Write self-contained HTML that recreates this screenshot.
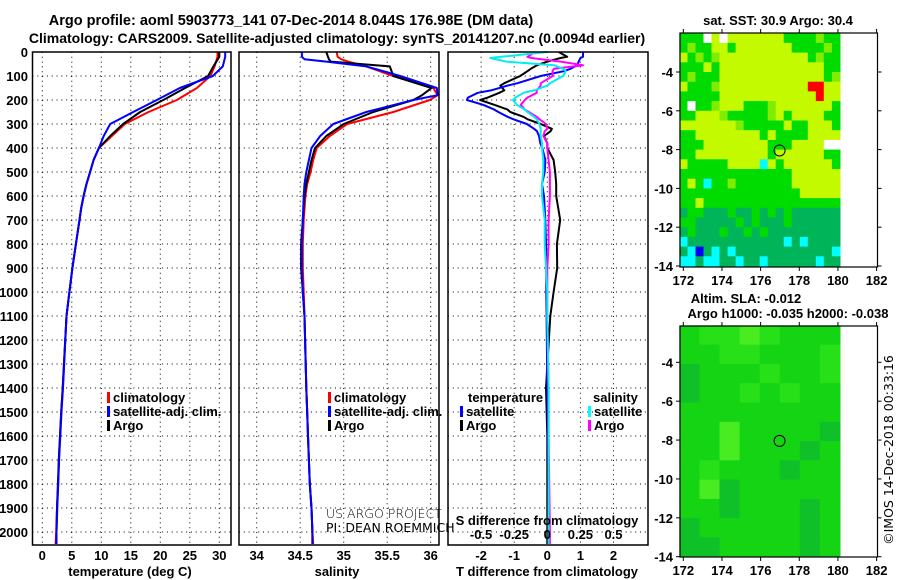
<!DOCTYPE html>
<html><head><meta charset="utf-8">
<style>
html,body{margin:0;padding:0;background:#fff;}
svg{display:block;font-family:"Liberation Sans",Arial,sans-serif;}
.b{font-weight:bold;font-size:13px;}
</style></head>
<body>
<svg id="c" width="900" height="580" viewBox="0 0 900 580"></svg>
<script>
// ---------- data ----------
const depthT = [0,20,60,100,150,200,250,300,350,400,450,500,550,600,650,700,800,900,1000,1100,1400,1500,1600,1700,1800,1900,2000,2050];
const tempClim = [29.7,29.7,29.2,28.5,26.2,22.8,18.0,14.0,11.8,9.6,8.7,8.1,7.5,7.0,6.6,6.3,5.7,5.1,4.6,4.1,3.45,3.2,3.0,2.8,2.7,2.5,2.35,2.25];
const tempSat  = [31.0,31.0,30.6,28.9,23.3,19.4,15.4,11.5,10.4,9.6,8.7,8.1,7.5,7.0,6.6,6.3,5.7,5.1,4.6,4.1,3.5,3.25,3.05,2.85,2.7,2.55,2.4,2.35];
const tempArgo = [30.0,30.0,29.0,28.1,24.2,20.5,16.6,13.7,11.5,9.6,8.7,8.1,7.5,7.0,6.6,6.3,5.7,5.1,4.6,4.1,3.45,3.2,3.0,2.8,2.65,2.5,2.4,2.4];
const depthS = [0,20,30,40,60,100,150,180,200,250,300,350,400,450,500,550,600,700,800,900,1000,1100,1400,1500,1600,1700,1800,1900,2000,2050];
const salClim = [34.92,34.93,34.97,35.05,35.26,35.57,36.03,36.08,35.99,35.57,35.04,34.84,34.69,34.65,34.62,34.58,34.56,34.54,34.53,34.53,34.54,34.55,34.57,34.58,34.59,34.60,34.61,34.63,34.64,34.65];
const salSat  = [34.52,34.52,34.55,34.80,35.26,35.65,36.07,36.08,35.80,35.26,34.88,34.73,34.63,34.60,34.57,34.55,34.54,34.53,34.52,34.52,34.53,34.55,34.57,34.58,34.59,34.60,34.61,34.63,34.64,34.64];
const salArgo = [34.80,34.82,34.83,34.85,35.53,35.57,36.01,35.90,35.80,35.34,35.00,34.80,34.67,34.63,34.60,34.57,34.55,34.53,34.51,34.51,34.53,34.55,34.57,34.58,34.59,34.60,34.61,34.63,34.64,34.64];
const depthD = [0,20,25,40,55,70,80,100,130,140,160,170,190,200,220,240,250,270,280,300,320,330,350,380,400,450,500,550,600,700,800,900,1000,1100,1400,1600,2000,2050];
const dTSat  = [1.08,1.08,1.0,0.95,0.9,0.7,0.5,-0.2,-0.9,-1.2,-1.7,-2.1,-2.4,-2.43,-1.94,-1.6,-1.48,-1.2,-1.03,-0.62,-0.4,-0.31,-0.25,-0.21,-0.15,-0.06,-0.08,-0.16,-0.1,-0.06,-0.04,-0.03,-0.03,-0.02,0.0,0.02,0.05,0.05];
const dTArgo = [0.34,0.6,0.4,0.0,-0.31,-0.5,-0.6,-0.82,-1.3,-1.42,-1.3,-1.45,-1.8,-2.03,-1.6,-1.2,-1.12,-0.72,-0.6,-0.2,0.14,0.1,-0.1,0.0,0.0,0.19,0.24,0.27,0.27,0.39,0.29,0.3,0.19,0.09,-0.04,0.0,0.0,0.0];
const dSSat  = [0.0,-0.35,-0.43,-0.31,0.05,0.12,0.14,0.12,0.02,0.0,-0.1,-0.18,-0.24,-0.26,-0.23,-0.17,-0.15,-0.1,-0.08,-0.06,-0.05,-0.05,-0.05,-0.04,-0.04,-0.03,-0.03,-0.04,-0.04,-0.02,-0.02,-0.01,0.0,0.0,0.01,0.01,0.01,0.01];
const dSArgo = [-0.09,-0.15,-0.12,0.1,0.27,0.05,0.04,0.04,-0.05,-0.05,-0.08,-0.08,-0.15,-0.17,-0.2,-0.17,-0.14,-0.08,-0.06,-0.01,0.0,-0.02,-0.03,0.0,0.0,0.01,0.02,0.02,0.02,0.01,0.01,0.0,0.0,0.0,0.01,0.01,0.02,0.02];
const depthTicks = [0,100,200,300,400,500,600,700,800,900,1000,1100,1200,1300,1400,1500,1600,1700,1800,1900,2000];
const tempTicks = [0,5,10,15,20,25,30];
const salTicks = [34,34.5,35,35.5,36];
const salTickLabels = ["34","34.5","35","35.5","36"];
const dTTicks = [-2,-1,0,1,2];
const dSTicks = [-0.5,-0.25,0,0.25,0.5];
const dSTickLabels = ["-0.5","-0.25","0","0.25","0.5"];
const lonTicks = [172,174,176,178,180,182];
const latTicks = [-4,-6,-8,-10,-12,-14];
const sstRows = [
"GGGWYWYYYYYYYGGGGLGG","GLGGYYGYYYYYYYGGGGLG","YGLGLYYYYYYYYYYYGLGG","GGGYGYYYYYYYYYYYYYGG",
"GLGGGYYYYYYYYYYYYYGL","YGGGLYYYYYYYYYYYRRYY","GGGGGYYYYYYYYYYYYRYY","GWGGLYYYGGGLYYYYYYYG",
"GGYYYLGGGGGLYGYYYYGG","YYYYYYYLGGGGGYGGYYYG","GGYYYYYYYYGYGGGGYYYY","GGGYYYYYYYYGGGYYYYWW",
"GGYYYYYYYYYGYYYYYYGG","YGGGGGYYYYCYGYYYYYYG","GGGGGGGGGGGGGGYYYYYY","GYGCGGLGGGGGGGYYYYYY",
"GGGGGGGGGGGGGGGYYYYY","GGYGGGGGGGGGGGGGGGGG","DGGDDDGDDGDGDGDDDDDD","GGDDDDDGDGDDDGDDDDDD",
"DGDDDGDDGDGDDDDDDDDD","CDDDDDDDDDDDDCDCDDDD","DCBDCDCDDDDDDDDDDDDC","CCDCCDDCDDCDDDDDDCDD"];
const slaRows = [
"abbcbaaa","aabbaaab","daaabaab","daababaa","aaaaaaaa","aacaaaad",
"aacaaada","abaaadaa","acdaaaaa","aadaaada","daaaaada","ddaaaada"];
const floatLon = 176.98, floatLat = -8.044;

// ---------- helpers ----------
const svg = document.getElementById('c');
const NS = 'http://www.w3.org/2000/svg';
function mk(tag, at, parent){ const e=document.createElementNS(NS,tag); for(const k in at) e.setAttribute(k,at[k]); (parent||svg).appendChild(e); return e; }
function txt(s,x,y,anchor,cls,fill){ const t=mk('text',{x:x,y:y,'text-anchor':anchor||'middle','class':cls||'b',fill:fill||'#000'}); t.textContent=s; return t; }

const top0=52, yD = d => top0 + d*0.24, bot = 545;
const xT = t => 42.3 + t*5.9;
const xS = s => 256.7 + (s-34)*87;
const xdT = t => 547.3 + t*33.1;
const xdS = s => 547.3 + s*132.4;
const panels = [[32.5,231],[239,439],[448,648]];

let t1 = txt('Argo profile: aoml 5903773_141 07-Dec-2014 8.044S 176.98E (DM data)',291,25,'middle','b');
  t1.setAttribute('style','font-size:14.5px');
let t2 = txt('Climatology: CARS2009. Satellite-adjusted climatology: synTS_20141207.nc (0.0094d earlier)',337,43,'middle','b');
  t2.setAttribute('style','font-size:14px');

const dotted = {stroke:'#000','stroke-width':1,'stroke-dasharray':'1,3.8'};
panels.forEach((p,i)=>{
  const g = mk('g',{});
  
  
  depthTicks.forEach(d=>{ if(d>0) mk('line',Object.assign({x1:p[0],x2:p[1],y1:yD(d),y2:yD(d)},dotted),g); });
});
tempTicks.forEach(t=>mk('line',Object.assign({x1:xT(t),x2:xT(t),y1:top0,y2:bot},dotted)));
salTicks.forEach(s=>mk('line',Object.assign({x1:xS(s),x2:xS(s),y1:top0,y2:bot},dotted)));
dTTicks.forEach(t=>mk('line',Object.assign({x1:xdT(t),x2:xdT(t),y1:top0,y2:bot},dotted)));

depthTicks.forEach(d=>{ const e=txt(String(d),28,yD(d)+5,'end');
    });

function line(xs, ds, fx, color, name, w){
  const pts = ds.map((d,i)=>fx(xs[i]).toFixed(1)+','+yD(d).toFixed(1)).join(' ');
  const e = mk('polyline',{points:pts,fill:'none',stroke:color,'stroke-width':w||2,'stroke-linejoin':'round'});
   
}
line(tempClim,depthT,xT,'#f00','temp-climatology-line');
line(tempArgo,depthT,xT,'#000','temp-argo-line');
line(tempSat,depthT,xT,'#00f','temp-satellite-line');
line(salClim,depthS,xS,'#f00','salinity-climatology-line');
line(salArgo,depthS,xS,'#000','salinity-argo-line');
line(salSat,depthS,xS,'#00f','salinity-satellite-line');
line(dTArgo,depthD,xdT,'#000','tdiff-argo-line');
line(dTSat,depthD,xdT,'#00f','tdiff-satellite-line');
line(dSArgo,depthD,xdS,'#f0f','sdiff-argo-line');
line(dSSat,depthD,xdS,'#0ee','sdiff-satellite-line');

panels.forEach((p,i)=>{ const e=mk('rect',{x:p[0],y:top0,width:p[1]-p[0],height:bot-top0,fill:'none',stroke:'#000','stroke-width':1.5});
    });

tempTicks.forEach(t=>{ const e=txt(String(t),xT(t),560);   });
salTicks.forEach((s,i)=>{ const e=txt(salTickLabels[i],xS(s),560);   });
dTTicks.forEach(t=>{ const e=txt(String(t),xdT(t),560);   });
dSTicks.forEach((s,i)=>{ const e=txt(dSTickLabels[i],xdS(s),539);   });
let a1=txt('temperature (deg C)',130,576);  
let a2=txt('salinity',337,576);  
let a3=txt('T difference from climatology',547,576);  
let a4=txt('S difference from climatology',547,525);  

function legend(x,y,color,label,name){
  const g=mk('g',{});  
  mk('rect',{x:x,y:y-10,width:3,height:11,fill:color},g);
  const t=mk('text',{x:x+6,y:y,'class':'b',fill:'#000'},g); t.textContent=label;
}
legend(107,402,'#f00','climatology','legend-temp-climatology');
legend(107,416,'#00f','satellite-adj. clim.','legend-temp-satellite');
legend(107,430,'#000','Argo','legend-temp-argo');
legend(328,402,'#f00','climatology','legend-sal-climatology');
legend(328,416,'#00f','satellite-adj. clim.','legend-sal-satellite');
legend(328,430,'#000','Argo','legend-sal-argo');
let lt=txt('temperature',468,402,'start');  
legend(460,416,'#00f','satellite','legend-tdiff-satellite');
legend(460,430,'#000','Argo','legend-tdiff-argo');
let ls=txt('salinity',593,402,'start');  
legend(588,416,'#0ff','satellite','legend-sdiff-satellite');
legend(588,430,'#f0f','Argo','legend-sdiff-argo');
let c1=txt('US ARGO PROJECT',326,518,'start','x'); c1.setAttribute('style','font-size:12.5px;font-family:"DejaVu Sans",sans-serif;font-weight:200');  
let c2=txt('PI: DEAN ROEMMICH',326,532,'start','x'); c2.setAttribute('style','font-size:12.5px;font-family:"DejaVu Sans",sans-serif');  

const lonX = l => 683.3 + (l-172)*19.33;
const latY1 = la => 72 + (-4-la)*19.4;
const latY2 = la => 362.3 + (-4-la)*19.44;
const sstCol = {Y:'#c4fa00',L:'#80ec00',G:'#00dc00',D:'#00b45a',C:'#00ffff',W:'#ffffff',R:'#ff0000',B:'#0000ff'};
const slaCol = {a:'#14d414',b:'#28e018',c:'#48ec20',d:'#10c028'};
function heat(rows, cols, lat0, lat1, latY, name){
  const g=mk('g',{});  
  const nr=rows.length, nc=rows[0].length, lonA=171.8, lonB=180.1;
  rows.forEach((r,i)=>{ for(let j=0;j<nc;j++){
    const x0=lonX(lonA+(lonB-lonA)*j/nc), x1=lonX(lonA+(lonB-lonA)*(j+1)/nc);
    const y0=latY(lat0+(lat1-lat0)*i/nr), y1=latY(lat0+(lat1-lat0)*(i+1)/nr);
    mk('rect',{x:x0.toFixed(1),y:y0.toFixed(1),width:(x1-x0+0.6).toFixed(1),height:(y1-y0+0.6).toFixed(1),fill:cols[r[j]]},g);
  }});
}
function mapAxes(latY, yTop, yBot, name, labY){
  const f=mk('rect',{x:680,y:yTop,width:197.5,height:yBot-yTop,fill:'none',stroke:'#000','stroke-width':1.2});
   
  latTicks.forEach(la=>{ const y=latY(la);
    mk('line',{x1:680,x2:676,y1:y,y2:y,stroke:'#000'}); mk('line',{x1:877.5,x2:881.5,y1:y,y2:y,stroke:'#000'});
    const e=txt(String(la),673,y+5,'end');   });
  lonTicks.forEach(l=>{ const x=lonX(l);
    mk('line',{x1:x,x2:x,y1:yBot,y2:yBot+4,stroke:'#000'}); mk('line',{x1:x,x2:x,y1:yTop,y2:yTop-4,stroke:'#000'});
    const e=txt(String(l),x,labY);   });
  const c=mk('circle',{cx:lonX(floatLon),cy:latY(floatLat),r:5.5,fill:'none',stroke:'#000','stroke-width':1});
   
}
heat(sstRows,sstCol,-2,-14,latY1,'sst-heatmap');
mapAxes(latY1,33,267,'sst-map',285);
heat(slaRows,slaCol,-2.1,-14,latY2,'sla-heatmap');
mapAxes(latY2,326,557,'sla-map',575);
let m1=txt('sat. SST: 30.9 Argo: 30.4',778,25);  
let m2=txt('Altim. SLA: -0.012',746,303);  
let m3=txt('Argo h1000: -0.035 h2000: -0.038',788,318);  
let cr=mk('text',{x:0,y:0,'text-anchor':'middle',transform:'translate(893,450) rotate(-90)',style:'font-size:12.5px;font-family:"DejaVu Sans",sans-serif'});
cr.textContent='©IMOS 14-Dec-2018 00:33:16';
 
</script>
</body></html>
